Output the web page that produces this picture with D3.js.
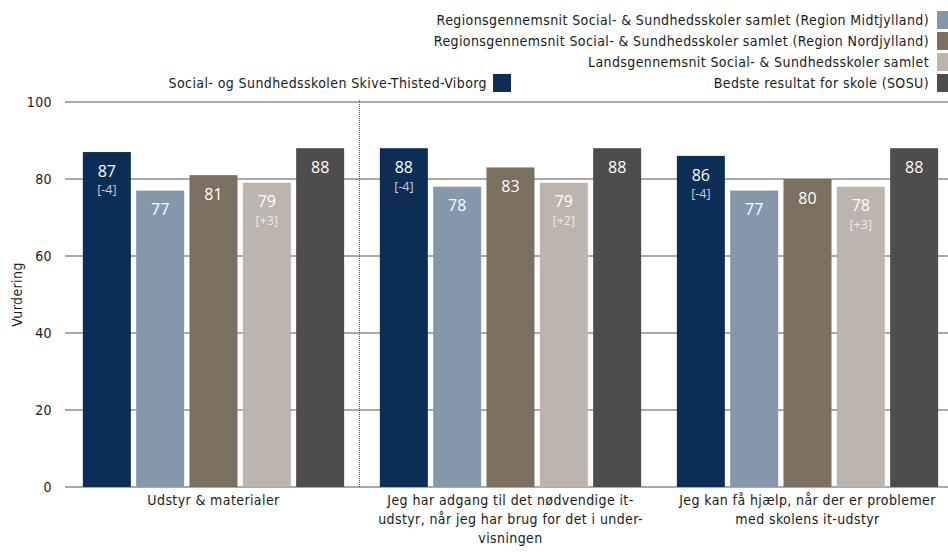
<!DOCTYPE html>
<html>
<head>
<meta charset="utf-8">
<script src="https://cdn.jsdelivr.net/npm/d3@7"></script>
<style>
  html, body { margin: 0; padding: 0; background: #fff; }
  svg { display: block; }
  .axis-text { font-family: "DejaVu Sans Condensed", "DejaVu Sans", sans-serif; font-size: 14px; letter-spacing: 0.4px; fill: #1a1a1a; }
  .bar-value { font-family: "Open Sans", "Noto Sans", sans-serif; font-size: 16px; fill: #fff; }
  .bar-delta { font-family: "Open Sans", "Noto Sans", sans-serif; font-size: 12.5px; }
</style>
</head>
<body>
<script>
// Questions shown along the x axis (each entry is a list of wrapped lines)
const categories = [
  ["Udstyr & materialer"],
  ["Jeg har adgang til det nødvendige it-", "udstyr, når jeg har brug for det i under-", "visningen"],
  ["Jeg kan få hjælp, når der er problemer", "med skolens it-udstyr"]
];

const seriesNames = [
  "Social- og Sundhedsskolen Skive-Thisted-Viborg",
  "Regionsgennemsnit Social- & Sundhedsskoler samlet (Region Midtjylland)",
  "Regionsgennemsnit Social- & Sundhedsskoler samlet (Region Nordjylland)",
  "Landsgennemsnit Social- & Sundhedsskoler samlet",
  "Bedste resultat for skole (SOSU)"
];

const seriesColors = ["#0c2e56", "#8597ab", "#7b6f5f", "#bdb4ad", "#4d4d4d"];

// Scores per series, one value per question
const skoleValues   = [87, 88, 86];
const midtValues    = [77, 78, 77];
const nordValues    = [81, 83, 80];
const landsValues   = [79, 79, 78];
const bedsteValues  = [88, 88, 88];

// Change versus last measurement (shown in brackets under the value)
const skoleDeltas   = ["-4", "-4", "-4"];
const landsDeltas   = ["+3", "+2", "+3"];

const yTicks = [0, 20, 40, 60, 80, 100];
const yTitle = "Vurdering";

const seriesValues = [skoleValues, midtValues, nordValues, landsValues, bedsteValues];
const seriesDeltas = [skoleDeltas, null, null, landsDeltas, null];

const W = 948, H = 552;
const svg = d3.select("body").append("svg").attr("width", W).attr("height", H);

const plotLeft = 65, plotRight = 956, gridRight = 948;
const y = d3.scaleLinear().domain([0, 100]).range([487, 102]);

const x0 = d3.scaleBand().domain(d3.range(categories.length)).range([plotLeft, plotRight]).padding(0);
const x1 = d3.scaleBand().domain(d3.range(seriesNames.length)).range([0, x0.bandwidth()])
  .paddingInner(0.1).paddingOuter(0.335);

// Horizontal gridlines with tick labels
const yAxis = svg.append("g");
yAxis.selectAll("line").data(yTicks).join("line")
  .attr("x1", plotLeft).attr("x2", gridRight)
  .attr("y1", d => y(d)).attr("y2", d => y(d))
  .attr("stroke", "#8c8c8c").attr("stroke-width", 1.5);
yAxis.selectAll("text").data(yTicks).join("text")
  .attr("class", "axis-text")
  .attr("x", 52).attr("y", d => y(d)).attr("dy", "0.35em")
  .attr("text-anchor", "end").text(d => d);

svg.append("text").attr("class", "axis-text")
  .attr("transform", `translate(17, ${y(50)}) rotate(-90)`)
  .attr("text-anchor", "middle").attr("dy", "0.35em").text(yTitle);

// Dotted separator between the first question and the rest
const sepX = x0(1) - 2.5;
svg.append("line")
  .attr("x1", sepX).attr("x2", sepX).attr("y1", 100).attr("y2", y(0))
  .attr("stroke", "#555").attr("stroke-width", 1).attr("stroke-dasharray", "1,1");

// Bars
const groups = svg.append("g").selectAll("g").data(categories).join("g")
  .attr("transform", (d, i) => `translate(${x0(i)},0)`);

groups.each(function(cat, ci) {
  const g = d3.select(this);
  seriesValues.forEach((vals, si) => {
    const v = vals[ci];
    const bx = x1(si), bw = x1.bandwidth();
    g.append("rect")
      .attr("x", bx).attr("width", bw)
      .attr("y", y(v)).attr("height", y(0) - y(v))
      .attr("fill", seriesColors[si]);
    g.append("text").attr("class", "bar-value")
      .attr("x", bx + bw / 2).attr("y", y(v) + 19).attr("dy", "0.35em")
      .attr("text-anchor", "middle").text(v);
    const deltas = seriesDeltas[si];
    if (deltas) {
      g.append("text").attr("class", "bar-delta")
        .attr("x", bx + bw / 2).attr("y", y(v) + 38).attr("dy", "0.35em")
        .attr("text-anchor", "middle")
        .attr("fill", si === 0 ? "#c9d1dc" : "#eeeae6")
        .text(`[${deltas[ci]}]`);
    }
  });
  // Category label lines
  g.selectAll("text.cat").data(cat).join("text")
    .attr("class", "axis-text cat")
    .attr("x", x0.bandwidth() / 2).attr("y", (d, li) => 500 + li * 19).attr("dy", "0.35em")
    .attr("text-anchor", "middle").text(d => d);
});

// Legend: four right-aligned rows, plus the school entry on the last row
const legendRows = [
  { si: 1, right: 929, row: 0 },
  { si: 2, right: 929, row: 1 },
  { si: 3, right: 929, row: 2 },
  { si: 4, right: 929, row: 3 },
  { si: 0, right: 487, row: 3 }
];
const legend = svg.append("g");
legendRows.forEach(r => {
  const cy = 20 + r.row * 21;
  legend.append("rect")
    .attr("x", r.right + (r.si === 0 ? 6 : 8)).attr("y", cy - 9)
    .attr("width", r.si === 0 ? 18 : 17).attr("height", 18)
    .attr("fill", seriesColors[r.si]);
  legend.append("text").attr("class", "axis-text")
    .attr("x", r.right).attr("y", cy).attr("dy", "0.35em")
    .attr("text-anchor", "end").text(seriesNames[r.si]);
});
</script>
</body>
</html>
